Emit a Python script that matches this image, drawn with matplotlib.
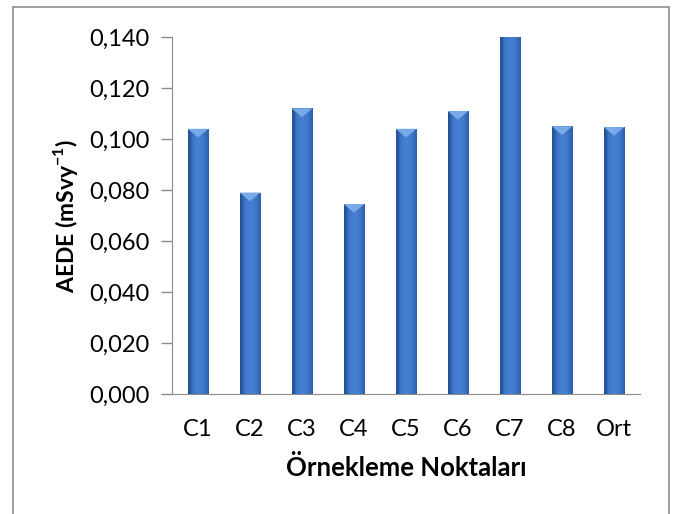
import numpy as np
import matplotlib
matplotlib.use("Agg")
import matplotlib.pyplot as plt
from matplotlib.patches import Rectangle, Polygon
from matplotlib.ticker import FuncFormatter, MultipleLocator

# data
categories = ["C1", "C2", "C3", "C4", "C5", "C6", "C7", "C8", "Ort"]
aede = [0.104, 0.079, 0.112, 0.0745, 0.104, 0.111, 0.142, 0.105, 0.1047]

plt.rcParams["font.family"] = ["Lato", "DejaVu Sans"]
plt.rcParams["mathtext.fontset"] = "custom"
plt.rcParams["mathtext.rm"] = "Lato"
plt.rcParams["mathtext.bf"] = "Lato:bold"

fig = plt.figure(figsize=(6.84, 5.14), dpi=100)
ax = fig.add_axes([172 / 684, 1 - 394 / 514, 468 / 684, 357 / 514])

# outer chart frame
fig.patches.append(Rectangle((13 / 684, -0.05), 656 / 684, 1.05 - 7 / 514,
                             transform=fig.transFigure, fill=False,
                             edgecolor="#8c8c8c", linewidth=1.2))

x = np.arange(len(categories))
bw = 0.4
bars = ax.bar(x, aede, width=bw, color="#3a70c0", edgecolor="#2b5a9c",
              linewidth=0.6, zorder=2)

# horizontal shading for a bevelled look
grad = np.array([[0.0, 0.55, 0.8, 0.9, 0.8, 0.6, 0.25]])
cmap = matplotlib.colors.LinearSegmentedColormap.from_list(
    "bevel", ["#22508f", "#3a72c4", "#4a84d6"])
ymax = 0.140
for b, v in zip(bars, aede):
    x0 = b.get_x()
    x1 = x0 + b.get_width()
    im = ax.imshow(grad, cmap=cmap, vmin=0, vmax=1, aspect="auto",
                   extent=(x0, x1, 0, min(v, ymax)), zorder=3,
                   interpolation="bicubic")
    im.set_clip_path(b)
    if v <= ymax:
        cap = 0.0034
        ax.add_patch(Polygon([(x0, v), (x1, v), (x0 + b.get_width() / 2, v - cap)],
                             closed=True, facecolor="#78aaea", edgecolor="none",
                             zorder=4))

ax.set_xlim(-0.5, len(categories) - 0.5)
ax.set_ylim(0, ymax)
ax.yaxis.set_major_locator(MultipleLocator(0.02))
ax.yaxis.set_major_formatter(FuncFormatter(lambda v, p: f"{v:.3f}".replace(".", ",")))
ax.set_xticks(x)
ax.set_xticklabels(categories)

for s in ["top", "right"]:
    ax.spines[s].set_visible(False)
ax.spines["left"].set_color("#8c8c8c")
ax.spines["bottom"].set_color("#8c8c8c")
ax.tick_params(axis="y", length=8, width=1, color="#8c8c8c", labelsize=17, pad=8)
ax.tick_params(axis="x", length=0, labelsize=17, pad=18)

ax.set_xlabel("Örnekleme Noktaları", fontsize=18.5, fontweight="bold", labelpad=11)
ax.set_ylabel(r"AEDE (mSvy$^{\mathbf{-1}}$)", fontsize=16.5, fontweight="bold", labelpad=7)

fig.savefig("out.png", dpi=100)
